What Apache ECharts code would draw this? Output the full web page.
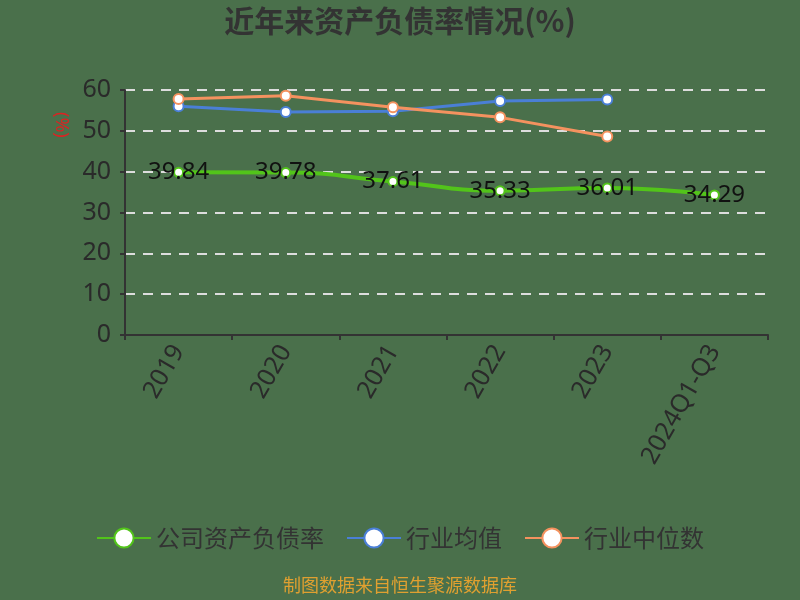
<!DOCTYPE html>
<html>
<head>
<meta charset="utf-8">
<script src="https://cdn.jsdelivr.net/npm/echarts@6/dist/echarts.min.js"></script>
<style>
  html, body { margin: 0; padding: 0; background: #4a704b; }
  #main { width: 800px; height: 600px; }
</style>
</head>
<body>
<div id="main"></div>
<script>
// 데이터
var years = ['2019', '2020', '2021', '2022', '2023', '2024Q1-Q3'];
var companyRate = [39.84, 39.78, 37.61, 35.33, 36.01, 34.29];
var industryAvg = [56.0, 54.6, 54.8, 57.3, 57.7];
var industryMedian = [57.8, 58.6, 55.8, 53.3, 48.6];
var yTicks = { min: 0, max: 60, interval: 10 };

var myChart = echarts.init(document.getElementById('main'));

var option = {
  backgroundColor: '#4a704b',
  title: {
    text: '近年来资产负债率情况(%)',
    left: 'center',
    top: 1,
    textStyle: { fontSize: 30, fontWeight: 'bold', color: '#333', fontFamily: 'Noto Sans CJK SC' }
  },
  graphic: [{
    type: 'text',
    left: 'center',
    top: 576,
    style: { text: '制图数据来自恒生聚源数据库', fill: '#e0a030', fontSize: 18, fontFamily: 'Noto Sans CJK SC' }
  }, {
    type: 'text',
    x: 70,
    y: 112,
    rotation: -Math.PI / 2,
    style: { text: '(%)', fill: '#d22', fontSize: 18, fontFamily: 'Noto Sans' }
  }],
  legend: {
    bottom: 45,
    left: 'center',
    itemWidth: 54,
    itemHeight: 24,
    itemGap: 22,
    textStyle: { fontSize: 24, color: '#333', fontFamily: 'Noto Sans CJK SC' },
    data: ['公司资产负债率', '行业均值', '行业中位数']
  },
  grid: { left: 125, right: 32, top: 90, bottom: 265 },
  xAxis: {
    type: 'category',
    data: years,
    boundaryGap: true,
    axisLine: { lineStyle: { color: '#333', width: 2 } },
    axisTick: { show: true, lineStyle: { color: '#333', width: 2 } },
    axisLabel: { rotate: 60, fontSize: 25, color: '#2a2a2a', margin: 12, fontFamily: 'Noto Sans' }
  },
  yAxis: {
    type: 'value',
    min: yTicks.min,
    max: yTicks.max,
    interval: yTicks.interval,
    axisLine: { show: true, lineStyle: { color: '#333', width: 2 } },
    axisTick: { show: true, lineStyle: { color: '#333', width: 2 } },
    axisLabel: { fontSize: 25, color: '#2a2a2a', margin: 14, fontFamily: 'Noto Sans' },
    splitLine: { lineStyle: { color: '#ddd', type: [10, 8], width: 2 } }
  },
  series: [
    {
      name: '公司资产负债率',
      type: 'line',
      data: companyRate,
      smooth: true,
      symbol: 'circle',
      symbolSize: 9,
      lineStyle: { color: '#52c41a', width: 4 },
      itemStyle: { color: '#fff', borderColor: '#52c41a', borderWidth: 2 },
      label: { show: true, position: 'inside', fontSize: 24, color: '#111', fontFamily: 'Noto Sans' },
      z: 3
    },
    {
      name: '行业均值',
      type: 'line',
      data: industryAvg,
      symbol: 'circle',
      symbolSize: 10,
      lineStyle: { color: '#4a7fd6', width: 3 },
      itemStyle: { color: '#fff', borderColor: '#4a7fd6', borderWidth: 2 }
    },
    {
      name: '行业中位数',
      type: 'line',
      data: industryMedian,
      symbol: 'circle',
      symbolSize: 10,
      lineStyle: { color: '#f4925f', width: 3 },
      itemStyle: { color: '#fff', borderColor: '#f4925f', borderWidth: 2 }
    }
  ]
};

myChart.setOption(option);
</script>
</body>
</html>
